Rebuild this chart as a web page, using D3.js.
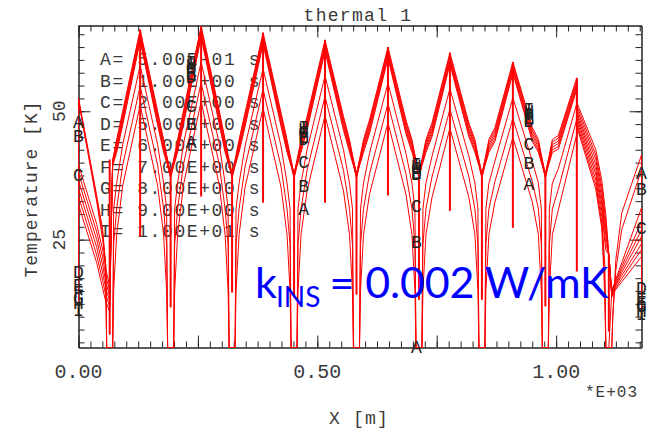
<!DOCTYPE html>
<html>
<head>
<meta charset="utf-8">
<script src="https://cdn.jsdelivr.net/npm/d3@7"></script>
<style>
  html, body { margin: 0; padding: 0; background: #fff; }
  svg { display: block; }
</style>
</head>
<body>
<div id="chart"></div>
<script>
// Path positions along X (*E+03 m): 9 samples round each trough, 1 per peak (2 at the jump near 1.04)
const xNodes = [0, 0,
  0.0381, 0.0506, 0.0569, 0.0590, 0.0653, 0.0715, 0.0736, 0.0799, 0.0925,
  0.1291,
  0.1657, 0.1782, 0.1845, 0.1866, 0.1929, 0.1992, 0.2013, 0.2075, 0.2201,
  0.2567,
  0.2944, 0.3069, 0.3132, 0.3153, 0.3215, 0.3278, 0.3299, 0.3362, 0.3487,
  0.3864,
  0.4241, 0.4366, 0.4429, 0.4450, 0.4513, 0.4575, 0.4596, 0.4659, 0.4785,
  0.5161,
  0.5548, 0.5674, 0.5736, 0.5757, 0.5820, 0.5883, 0.5904, 0.5967, 0.6092,
  0.6479,
  0.6856, 0.6981, 0.7044, 0.7065, 0.7128, 0.7190, 0.7211, 0.7274, 0.7400,
  0.7776,
  0.8174, 0.8299, 0.8362, 0.8383, 0.8446, 0.8508, 0.8529, 0.8592, 0.8718,
  0.9094,
  0.9502, 0.9628, 0.9690, 0.9711, 0.9774, 0.9837, 0.9858, 0.9921, 1.0046,
  1.0433, 1.0433,
  1.0831, 1.0956, 1.1019, 1.1040, 1.1103, 1.1165, 1.1186, 1.1249, 1.1374,
  1.1787, 1.1787];

// Temperature [K] per curve (A = 0.5 s ... I = 10 s); values under the axis are drawn on it
const seriesA = [47.8, 52.6,
  33.6, 27.0, 20.0, 2.0, -10, 2.0, 15.0, 26.0, 35.5,
  51.2,
  35.5, 26.0, 15.0, 2.0, -10, 2.0, 15.0, 26.0, 35.8,
  51.9,
  35.8, 26.0, 15.0, 2.0, -10, 2.0, 15.0, 26.0, 35.2,
  50.6,
  35.2, 26.0, 15.0, 2.0, -10, 2.0, 15.0, 26.0, 34.5,
  49.2,
  34.5, 26.0, 15.0, 2.0, -10, 2.0, 15.0, 26.0, 33.8,
  47.8,
  33.8, 26.0, 15.0, 2.0, -10, 2.0, 15.0, 26.0, 33.2,
  46.7,
  33.2, 26.0, 15.0, 2.0, -10, 2.0, 15.0, 26.0, 32.3,
  44.9,
  32.3, 26.0, 15.0, 2.0, -10, 2.0, 15.0, 26.0, 30.8,
  45.5, 47.0,
  34.8, 27.2, 14.0, 2.0, -10, 2.0, 10.0, 21.0, 30.2,
  41.5, 37.6];

const seriesB = [45.0, 52.3,
  33.0, 26.0, 20.0, 2.0, -6, 2.0, 24.0, 31.0, 39.5,
  54.9,
  39.5, 31.0, 24.0, 2.0, -6, 2.0, 24.0, 31.0, 39.8,
  55.6,
  39.8, 31.0, 24.0, 2.0, -6, 2.0, 24.0, 31.0, 39.2,
  54.3,
  39.2, 31.0, 24.0, 2.0, -6, 2.0, 24.0, 31.0, 38.5,
  52.9,
  38.5, 31.0, 24.0, 2.0, -6, 2.0, 24.0, 31.0, 37.8,
  51.5,
  37.8, 31.0, 24.0, 2.0, -6, 2.0, 24.0, 31.0, 37.2,
  50.4,
  37.2, 31.0, 24.0, 2.0, -6, 2.0, 24.0, 31.0, 36.3,
  48.6,
  36.3, 31.0, 24.0, 2.0, -6, 2.0, 24.0, 31.0, 34.8,
  48.5, 47.6,
  35.7, 28.3, 17.0, 2.0, -6, 2.0, 10.0, 19.0, 27.0,
  38.6, 34.7];

const seriesC = [37.2, 52.0,
  32.4, 25.0, 20.0, 2.0, -4, 2.0, 31.0, 36.0, 43.5,
  58.9,
  43.5, 36.0, 31.0, 2.0, -4, 2.0, 31.0, 36.0, 43.8,
  59.6,
  43.8, 36.0, 31.0, 2.0, -4, 2.0, 31.0, 36.0, 43.2,
  58.3,
  43.2, 36.0, 31.0, 2.0, -4, 2.0, 31.0, 36.0, 42.5,
  56.9,
  42.5, 36.0, 31.0, 2.0, -4, 2.0, 31.0, 36.0, 41.8,
  55.5,
  41.8, 36.0, 31.0, 2.0, -4, 2.0, 31.0, 36.0, 41.2,
  54.4,
  41.2, 36.0, 31.0, 2.0, -4, 2.0, 31.0, 36.0, 40.3,
  52.6,
  40.3, 36.0, 31.0, 2.0, -4, 2.0, 31.0, 36.0, 38.8,
  51.5, 48.2,
  36.7, 29.5, 20.0, 2.0, -4, 15.0, 15.5, 17.3, 20.5,
  31.2, 26.9];

const seriesD = [18.6, 39.6,
  28.0, 23.0, 19.5, 18.5, 16.0, 39.4, 40.0, 42.0, 47.3,
  63.7,
  47.3, 42.0, 40.0, 39.4, 37.0, 39.4, 40.0, 42.0, 47.6,
  64.4,
  47.6, 42.0, 40.0, 39.4, 37.0, 39.4, 40.0, 42.0, 47.0,
  63.1,
  47.0, 42.0, 40.0, 39.4, 37.0, 39.4, 40.0, 42.0, 46.3,
  61.7,
  46.3, 42.0, 40.0, 39.4, 37.0, 39.4, 40.0, 42.0, 45.6,
  60.3,
  45.6, 42.0, 40.0, 39.4, 37.0, 39.4, 40.0, 42.0, 45.0,
  59.2,
  45.0, 42.0, 40.0, 39.4, 37.0, 39.4, 40.0, 42.0, 44.1,
  57.4,
  44.1, 42.0, 40.0, 39.4, 37.0, 39.4, 40.0, 42.0, 42.6,
  54.3, 48.8,
  37.7, 30.7, 24.6, 23.0, 22.0, 14.8, 15.7, 17.0, 19.8,
  28.5, 15.3];

const seriesE = [16.2, 38.0,
  26.5, 21.5, 18.2, 17.3, 15.0, 39.6, 40.3, 42.5, 47.8,
  64.1,
  47.8, 42.5, 40.3, 39.6, 37.2, 39.6, 40.3, 42.5, 48.1,
  64.8,
  48.1, 42.5, 40.3, 39.6, 37.2, 39.6, 40.3, 42.5, 47.5,
  63.5,
  47.5, 42.5, 40.3, 39.6, 37.2, 39.6, 40.3, 42.5, 46.8,
  62.1,
  46.8, 42.5, 40.3, 39.6, 37.2, 39.6, 40.3, 42.5, 46.1,
  60.7,
  46.1, 42.5, 40.3, 39.6, 37.2, 39.6, 40.3, 42.5, 45.5,
  59.6,
  45.5, 42.5, 40.3, 39.6, 37.2, 39.6, 40.3, 42.5, 44.6,
  57.8,
  44.6, 42.5, 40.3, 39.6, 37.2, 39.6, 40.3, 42.5, 43.1,
  54.7, 49.4,
  38.6, 31.8, 26.0, 24.4, 22.0, 14.6, 15.4, 16.6, 19.2,
  26.9, 13.3];

const seriesF = [14.8, 36.5,
  25.0, 20.0, 16.9, 16.1, 14.0, 39.9, 40.6, 43.0, 48.4,
  64.6,
  48.4, 43.0, 40.6, 39.9, 37.3, 39.9, 40.6, 43.0, 48.7,
  65.3,
  48.7, 43.0, 40.6, 39.9, 37.3, 39.9, 40.6, 43.0, 48.1,
  64.0,
  48.1, 43.0, 40.6, 39.9, 37.3, 39.9, 40.6, 43.0, 47.4,
  62.6,
  47.4, 43.0, 40.6, 39.9, 37.3, 39.9, 40.6, 43.0, 46.7,
  61.2,
  46.7, 43.0, 40.6, 39.9, 37.3, 39.9, 40.6, 43.0, 46.1,
  60.1,
  46.1, 43.0, 40.6, 39.9, 37.3, 39.9, 40.6, 43.0, 45.2,
  58.3,
  45.2, 43.0, 40.6, 39.9, 37.3, 39.9, 40.6, 43.0, 43.7,
  55.2, 49.9,
  39.6, 33.0, 27.4, 25.8, 22.0, 14.4, 15.1, 16.3, 18.6,
  25.6, 12.5];

const seriesG = [13.6, 34.9,
  23.5, 18.5, 15.6, 14.9, 13.0, 40.1, 40.9, 43.5, 48.9,
  65.0,
  48.9, 43.5, 40.9, 40.1, 37.5, 40.1, 40.9, 43.5, 49.2,
  65.7,
  49.2, 43.5, 40.9, 40.1, 37.5, 40.1, 40.9, 43.5, 48.6,
  64.4,
  48.6, 43.5, 40.9, 40.1, 37.5, 40.1, 40.9, 43.5, 47.9,
  63.0,
  47.9, 43.5, 40.9, 40.1, 37.5, 40.1, 40.9, 43.5, 47.2,
  61.6,
  47.2, 43.5, 40.9, 40.1, 37.5, 40.1, 40.9, 43.5, 46.6,
  60.5,
  46.6, 43.5, 40.9, 40.1, 37.5, 40.1, 40.9, 43.5, 45.7,
  58.7,
  45.7, 43.5, 40.9, 40.1, 37.5, 40.1, 40.9, 43.5, 44.2,
  55.6, 50.5,
  40.6, 34.2, 28.7, 27.1, 22.0, 14.2, 14.8, 16.0, 18.0,
  24.2, 11.7];

const seriesH = [12.4, 33.4,
  22.0, 17.0, 14.3, 13.7, 12.0, 40.4, 41.2, 44.0, 49.5,
  65.5,
  49.5, 44.0, 41.2, 40.4, 37.6, 40.4, 41.2, 44.0, 49.8,
  66.2,
  49.8, 44.0, 41.2, 40.4, 37.6, 40.4, 41.2, 44.0, 49.2,
  64.9,
  49.2, 44.0, 41.2, 40.4, 37.6, 40.4, 41.2, 44.0, 48.5,
  63.5,
  48.5, 44.0, 41.2, 40.4, 37.6, 40.4, 41.2, 44.0, 47.8,
  62.1,
  47.8, 44.0, 41.2, 40.4, 37.6, 40.4, 41.2, 44.0, 47.2,
  61.0,
  47.2, 44.0, 41.2, 40.4, 37.6, 40.4, 41.2, 44.0, 46.3,
  59.2,
  46.3, 44.0, 41.2, 40.4, 37.6, 40.4, 41.2, 44.0, 44.8,
  56.1, 51.1,
  41.5, 35.3, 30.1, 28.5, 22.0, 14.0, 14.5, 15.6, 17.4,
  23.1, 11.0];

const seriesI = [11.2, 31.8,
  20.5, 15.5, 13.0, 12.5, 11.0, 40.6, 41.5, 44.5, 50.0,
  65.9,
  50.0, 44.5, 41.5, 40.6, 37.8, 40.6, 41.5, 44.5, 50.3,
  66.6,
  50.3, 44.5, 41.5, 40.6, 37.8, 40.6, 41.5, 44.5, 49.7,
  65.3,
  49.7, 44.5, 41.5, 40.6, 37.8, 40.6, 41.5, 44.5, 49.0,
  63.9,
  49.0, 44.5, 41.5, 40.6, 37.8, 40.6, 41.5, 44.5, 48.3,
  62.5,
  48.3, 44.5, 41.5, 40.6, 37.8, 40.6, 41.5, 44.5, 47.7,
  61.4,
  47.7, 44.5, 41.5, 40.6, 37.8, 40.6, 41.5, 44.5, 46.8,
  59.6,
  46.8, 44.5, 41.5, 40.6, 37.8, 40.6, 41.5, 44.5, 45.3,
  56.5, 51.7,
  42.5, 36.5, 31.5, 29.9, 22.0, 13.8, 14.2, 15.3, 16.8,
  21.7, 10.4];

// Vertical drops at the element joints (peaks) and at the trough centres
const spikeX = [0.1291, 0.2567, 0.3864, 0.5161, 0.6479, 0.7776, 0.9094, 1.0433];
const spikeTop = [65.9, 66.6, 65.3, 63.9, 62.5, 61.4, 59.6, 56.5];
const spikeBottom = [25.6, 33.4, 32.2, 32.2, 33.6, 30.6, 27.3, 18.8];
const troughX = [0.0653, 0.1929, 0.3215, 0.4513, 0.5820, 0.7128, 0.8446, 0.9774, 1.1103];
const troughTop = [40.6, 37.8, 37.8, 37.8, 37.8, 37.8, 37.8, 37.8, 22.0];
const troughBottom = [6.5, 11.8, 14.7, 13.7, 14.3, 13.3, 13.3, 12.0, 7.1];

// Curve identification letters
const curveLetters = ['A', 'B', 'C', 'D', 'E', 'F', 'G', 'H', 'I'];
const letterX = [0, 0.2357, 0.4715, 0.7072, 0.9430, 1.1787];
const letterA = [47.8, 43.9, 30.8, 3.6, 35.7, 37.7];
const letterB = [45.0, 47.4, 35.3, 24.4, 39.8, 34.7];
const letterC = [37.3, 50.9, 40.0, 31.4, 43.5, 27.0];
const letterD = [18.6, 56.5, 44.5, 37.5, 48.0, 15.3];
const letterE = [15.9, 57.1, 44.8, 37.8, 48.4, 13.3];
const letterF = [14.7, 57.7, 45.4, 38.2, 48.9, 12.6];
const letterG = [13.5, 58.3, 45.8, 38.8, 49.3, 11.8];
const letterH = [12.4, 58.9, 46.4, 39.2, 49.9, 11.0];
const letterI = [11.2, 59.4, 46.8, 39.6, 50.3, 10.4];

const legendLabels = [
  'A= 5.00E-01 s', 'B= 1.00E+00 s', 'C= 2.00E+00 s',
  'D= 5.00E+00 s', 'E= 6.00E+00 s', 'F= 7.00E+00 s',
  'G= 8.00E+00 s', 'H= 9.00E+00 s', 'I= 1.00E+01 s'];

const xMajorTicks = [0, 0.25, 0.5, 0.75, 1.0];
const xTickLabels = ['0.00', '', '0.50', '', '1.00'];
const yMajorTicks = [25, 50];
const yTickLabels = ['25', '50'];

const width = 652, height = 431;
const plot = { left: 78.5, right: 641.5, top: 25.5, bottom: 347.5 };
const mono = '"Liberation Mono", "DejaVu Sans Mono", monospace';
const ink = '#3a3a3a';
const red = '#ff0000';

const x = d3.scaleLinear().domain([0, 1.1787]).range([plot.left, plot.right]);
const y = d3.scaleLinear().domain([4.0, 66.7]).range([plot.bottom, plot.top]).clamp(true);

const svg = d3.select('#chart').append('svg')
    .attr('width', width)
    .attr('height', height)
    .style('font-family', mono);

// Legend first, the curves are drawn over it
const legend = svg.append('g').attr('class', 'legend');
legendLabels.forEach((t, i) => {
    legend.append('text')
        .attr('x', 100)
        .attr('y', 65 + i * 21.5)
        .attr('font-size', 18)
        .style('letter-spacing', '1.6px')
        .attr('fill', ink)
        .text(t);
});

// Frame with inward ticks on all four sides
const xMinor = d3.range(0, 1.18, 0.025);
const yMinor = d3.range(5, 66, 2.5);
const axes = [
    [d3.axisBottom(x).tickValues(xMinor).tickSize(-6), `translate(0,${plot.bottom})`],
    [d3.axisBottom(x).tickValues(xMajorTicks).tickSize(-12), `translate(0,${plot.bottom})`],
    [d3.axisTop(x).tickValues(xMinor).tickSize(-6), `translate(0,${plot.top})`],
    [d3.axisTop(x).tickValues(xMajorTicks).tickSize(-12), `translate(0,${plot.top})`],
    [d3.axisLeft(y).tickValues(yMinor).tickSize(-6), `translate(${plot.left},0)`],
    [d3.axisLeft(y).tickValues(yMajorTicks).tickSize(-12), `translate(${plot.left},0)`],
    [d3.axisRight(y).tickValues(yMinor).tickSize(-6), `translate(${plot.right},0)`],
    [d3.axisRight(y).tickValues(yMajorTicks).tickSize(-12), `translate(${plot.right},0)`]
];
axes.forEach(([ax, tr]) => {
    const g = svg.append('g')
        .attr('transform', tr)
        .call(ax.tickSizeOuter(0).tickFormat(''));
    g.select('.domain').attr('stroke', '#222');
    g.selectAll('.tick line').attr('stroke', '#222');
    g.selectAll('.tick text').remove();
});

// Tick labels
svg.append('g').selectAll('text')
    .data(xMajorTicks)
    .join('text')
    .attr('x', d => x(d))
    .attr('y', 378)
    .attr('text-anchor', 'middle')
    .attr('font-size', 20)
    .attr('fill', ink)
    .text((d, i) => xTickLabels[i]);

svg.append('g').selectAll('text')
    .data(yMajorTicks)
    .join('text')
    .attr('transform', d => `translate(65,${y(d)}) rotate(-90)`)
    .attr('text-anchor', 'middle')
    .attr('font-size', 18)
    .attr('fill', ink)
    .text((d, i) => yTickLabels[i]);

svg.append('text')
    .attr('x', 585)
    .attr('y', 397)
    .attr('font-size', 16)
    .style('letter-spacing', '1px')
    .attr('fill', ink)
    .text('*E+03');

// Titles
svg.append('text')
    .attr('x', 358)
    .attr('y', 21)
    .attr('text-anchor', 'middle')
    .attr('font-size', 18)
    .style('letter-spacing', '1.3px')
    .attr('fill', ink)
    .text('thermal 1');

svg.append('text')
    .attr('x', 359)
    .attr('y', 424)
    .attr('text-anchor', 'middle')
    .attr('font-size', 18)
    .style('letter-spacing', '1.2px')
    .attr('fill', ink)
    .text('X [m]');

svg.append('text')
    .attr('transform', 'translate(37,189) rotate(-90)')
    .attr('text-anchor', 'middle')
    .attr('font-size', 18)
    .style('letter-spacing', '1px')
    .attr('fill', ink)
    .text('Temperature [K]');

// Curves
const allSeries = [seriesA, seriesB, seriesC, seriesD, seriesE, seriesF, seriesG, seriesH, seriesI];
allSeries.forEach((s, i) => {
    if (s.length !== xNodes.length) console.error('series ' + curveLetters[i] + ' has ' + s.length + ' values');
});

const line = d3.line()
    .x((d, i) => x(xNodes[i]))
    .y(d => y(d));

svg.append('g')
    .attr('class', 'curves')
    .selectAll('path')
    .data(allSeries)
    .join('path')
    .attr('d', line)
    .attr('fill', 'none')
    .attr('stroke', red)
    .attr('stroke-width', 1);

svg.append('g')
    .attr('class', 'spikes')
    .selectAll('line')
    .data(spikeX)
    .join('line')
    .attr('x1', d => x(d))
    .attr('x2', d => x(d))
    .attr('y1', (d, i) => y(spikeTop[i]))
    .attr('y2', (d, i) => y(spikeBottom[i]))
    .attr('stroke', red)
    .attr('stroke-width', 2);

svg.append('g')
    .attr('class', 'trough-spikes')
    .selectAll('line')
    .data(troughX)
    .join('line')
    .attr('x1', d => x(d))
    .attr('x2', d => x(d))
    .attr('y1', (d, i) => y(troughTop[i]))
    .attr('y2', (d, i) => y(troughBottom[i]))
    .attr('stroke', red)
    .attr('stroke-width', 2);

// Letters on the curves
const letterValues = [letterA, letterB, letterC, letterD, letterE, letterF, letterG, letterH, letterI];
const letters = svg.append('g').attr('class', 'curve-letters');
letterValues.forEach((vals, k) => {
    vals.forEach((v, j) => {
        letters.append('text')
            .attr('x', x(letterX[j]))
            .attr('y', y(v))
            .attr('text-anchor', 'middle')
            .attr('dominant-baseline', 'central')
            .attr('font-size', 18)
            .attr('fill', '#222')
            .text(curveLetters[k]);
    });
});

// Annotation
const sans = 'Lato, "Open Sans", "Noto Sans", sans-serif';
svg.append('text')
    .attr('x', 255).attr('y', 298)
    .attr('font-family', sans).attr('font-size', 43)
    .attr('fill', '#0000ff')
    .text('k');
svg.append('text')
    .attr('x', 276).attr('y', 307)
    .attr('font-family', sans).attr('font-size', 28)
    .attr('fill', '#0000ff')
    .text('INS');
svg.append('text')
    .attr('x', 329.5).attr('y', 298)
    .attr('font-family', sans).attr('font-size', 43)
    .attr('textLength', 279)
    .attr('fill', '#0000ff')
    .text('= 0.002 W/mK');
</script>
</body>
</html>
